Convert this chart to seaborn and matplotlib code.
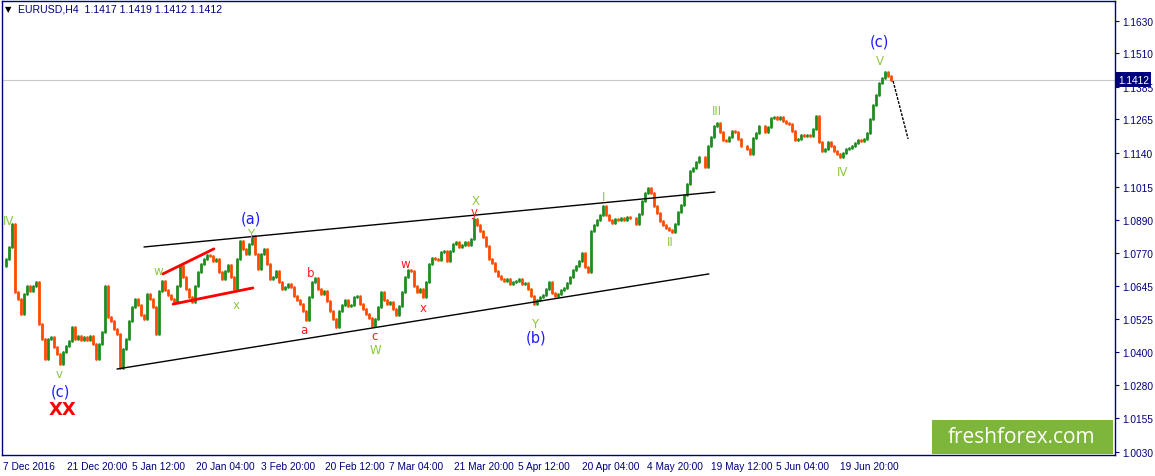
import numpy as np
import pandas as pd
import matplotlib
matplotlib.use("Agg")
import matplotlib.pyplot as plt
import matplotlib.transforms as mtransforms
from matplotlib.patches import Rectangle
import seaborn as sns

# ----------------------------------------------------------
# dati (chiusure H4, una ogni ~3 barre)
# ----------------------------------------------------------
closes = [
    1.0720, 1.0746, 1.0791, 1.0876, 1.0624, 1.0598, 1.0542, 1.0616, 1.0646, 1.0628,
    1.0646, 1.0661, 1.0505, 1.0449, 1.0375, 1.0449, 1.0457, 1.0420, 1.0394, 1.0357,
    1.0401, 1.0423, 1.0442, 1.0494, 1.0449, 1.0461, 1.0446, 1.0457, 1.0446, 1.0461,
    1.0431, 1.0375, 1.0431, 1.0475, 1.0646, 1.0531, 1.0516, 1.0487, 1.0468, 1.0342,
    1.0412, 1.0449, 1.0516, 1.0568, 1.0598, 1.0576, 1.0539, 1.0524, 1.0616, 1.0598,
    1.0568, 1.0468, 1.0628, 1.0665, 1.0631, 1.0613, 1.0598, 1.0587, 1.0646, 1.0720,
    1.0680, 1.0635, 1.0605, 1.0587, 1.0646, 1.0698, 1.0728, 1.0746, 1.0761, 1.0757,
    1.0739, 1.0746, 1.0698, 1.0672, 1.0702, 1.0724, 1.0680, 1.0635, 1.0746, 1.0813,
    1.0784, 1.0765, 1.0802, 1.0832, 1.0765, 1.0709, 1.0765, 1.0784, 1.0728, 1.0672,
    1.0680, 1.0702, 1.0661, 1.0635, 1.0643, 1.0654, 1.0643, 1.0609, 1.0594, 1.0579,
    1.0553, 1.0520, 1.0605, 1.0661, 1.0676, 1.0635, 1.0616, 1.0628, 1.0591, 1.0553,
    1.0524, 1.0494, 1.0553, 1.0576, 1.0594, 1.0572, 1.0576, 1.0605, 1.0609, 1.0579,
    1.0561, 1.0542, 1.0527, 1.0498, 1.0524, 1.0568, 1.0624, 1.0594, 1.0579, 1.0587,
    1.0561, 1.0539, 1.0572, 1.0624, 1.0680, 1.0706, 1.0702, 1.0646, 1.0624, 1.0635,
    1.0605, 1.0661, 1.0728, 1.0750, 1.0746, 1.0743, 1.0772, 1.0776, 1.0739, 1.0776,
    1.0802, 1.0810, 1.0791, 1.0798, 1.0810, 1.0798, 1.0821, 1.0895, 1.0873, 1.0850,
    1.0828, 1.0795, 1.0746, 1.0732, 1.0702, 1.0683, 1.0672, 1.0665, 1.0672, 1.0654,
    1.0661, 1.0665, 1.0672, 1.0654, 1.0657, 1.0635, 1.0609, 1.0579, 1.0594, 1.0605,
    1.0613, 1.0635, 1.0661, 1.0620, 1.0609, 1.0616, 1.0631, 1.0639, 1.0657, 1.0680,
    1.0706, 1.0720, 1.0739, 1.0769, 1.0717, 1.0698, 1.0850, 1.0873, 1.0891, 1.0910,
    1.0943, 1.0910, 1.0891, 1.0880, 1.0895, 1.0891, 1.0899, 1.0891, 1.0902, 1.0899,
    1.0899, 1.0876, 1.0913, 1.0962, 1.0991, 1.1010, 1.0991, 1.0943, 1.0917, 1.0888,
    1.0873, 1.0862, 1.0854, 1.0847, 1.0876, 1.0921, 1.0947, 1.0984, 1.1025, 1.1073,
    1.1084, 1.1107, 1.1125, 1.1125, 1.1088, 1.1166, 1.1199, 1.1240, 1.1251, 1.1218,
    1.1188, 1.1185, 1.1199, 1.1222, 1.1218, 1.1192, 1.1166, 1.1166, 1.1155, 1.1136,
    1.1196, 1.1214, 1.1240, 1.1240, 1.1218, 1.1236, 1.1270, 1.1274, 1.1266, 1.1274,
    1.1259, 1.1251, 1.1248, 1.1222, 1.1188, 1.1192, 1.1207, 1.1203, 1.1207, 1.1203,
    1.1229, 1.1277, 1.1181, 1.1147, 1.1155, 1.1181, 1.1166, 1.1147, 1.1136, 1.1125,
    1.1140, 1.1155, 1.1159, 1.1166, 1.1177, 1.1188, 1.1185, 1.1192, 1.1214, 1.1266,
    1.1318, 1.1355, 1.1400, 1.1418, 1.1441, 1.1426, 1.1412,
]

date_labels = [
    "7 Dec 2016", "21 Dec 20:00", "5 Jan 12:00", "20 Jan 04:00", "3 Feb 20:00",
    "20 Feb 12:00", "7 Mar 04:00", "21 Mar 20:00", "5 Apr 12:00", "20 Apr 04:00",
    "4 May 20:00", "19 May 12:00", "5 Jun 04:00", "19 Jun 20:00",
]
price_ticks = [1.1630, 1.1510, 1.1385, 1.1265, 1.1140, 1.1015, 1.0890,
               1.0770, 1.0645, 1.0525, 1.0400, 1.0280, 1.0155, 1.0030]
last_quote = [1.1417, 1.1419, 1.1412, 1.1412]

# etichette d'onda: testo, barra, prezzo, colore
GREEN, RED, BLUE = "#8CC63F", "#FF1A1A", "#1E1EFF"
wave_labels = [
    ("IV", 1.8, 1.0888, GREEN), ("v", 18.7, 1.0320, GREEN), ("(c)", 19.3, 1.0256, BLUE),
    ("(a)", 82.7, 1.0900, BLUE), ("Y", 82.5, 1.0842, GREEN),
    ("w", 51.7, 1.0702, GREEN), ("x", 77.7, 1.0576, GREEN),
    ("a", 100.3, 1.0483, RED), ("b", 102.7, 1.0698, RED),
    ("c", 124.0, 1.0463, RED), ("W", 124.3, 1.0410, GREEN),
    ("w", 134.0, 1.0728, RED), ("x", 140.0, 1.0568, RED),
    ("X", 157.7, 1.0965, GREEN), ("y", 157.0, 1.0921, RED),
    ("Y", 177.3, 1.0508, GREEN), ("(b)", 177.7, 1.0457, BLUE),
    ("I", 200.3, 1.0980, GREEN), ("II", 222.3, 1.0810, GREEN),
    ("III", 238.0, 1.1299, GREEN), ("IV", 280.0, 1.1073, GREEN),
    ("(c)", 292.3, 1.1555, BLUE), ("V", 292.3, 1.1485, GREEN),
]

# ----------------------------------------------------------
# barre in formato lungo per seaborn
# ----------------------------------------------------------
opens = [closes[0]] + closes[:-1]
rows = []
for k, (o, c) in enumerate(zip(opens, closes)):
    d = "up" if c >= o else "down"
    rows.append((k, o, d))
    rows.append((k, c, d))
bars = pd.DataFrame(rows, columns=["bar", "price", "dir"])

sns.set_theme(style="white")
plt.rcParams["font.family"] = ["Liberation Sans", "DejaVu Sans"]
NAVY = "#00007F"

fig = plt.figure(figsize=(11.55, 4.77), dpi=100)
ax = fig.add_axes([2 / 1155, 21 / 477, 1113 / 1155, 454 / 477])

sns.lineplot(data=bars, x="bar", y="price", hue="dir", units="bar", estimator=None,
             sort=False, palette={"up": "#1F8C1F", "down": "#FF4A00"},
             lw=2.0, legend=False, ax=ax)

# canale e triangolo
sns.lineplot(x=[47, 237.3], y=[1.0791, 1.0995], color="black", lw=1.0, ax=ax)
sns.lineplot(x=[38, 235.3], y=[1.0338, 1.0691], color="black", lw=1.0, ax=ax)
sns.lineplot(x=[53.3, 70.3], y=[1.0691, 1.0784], color="#FF0000", lw=2.0, ax=ax)
sns.lineplot(x=[56.7, 83.3], y=[1.0579, 1.0639], color="#FF0000", lw=2.0, ax=ax)
ax.plot([296.7, 301.7], [1.1407, 1.1192], color="black", lw=1.0, ls=(0, (2, 1)))

ax.axhline(last_quote[-1], color="#C8C8C8", lw=0.8, zorder=0)

for txt, k, p, col in wave_labels:
    fs = 10.5 if txt.startswith("(") else 8.5
    ax.text(k, p, txt, color=col, fontsize=fs, ha="center", va="center",
            family=["DejaVu Sans"])
ax.text(20, 1.0190, "XX", color="#FF0000", fontsize=13, fontweight="bold",
        ha="center", va="center", family=["DejaVu Sans"])

# assi
ax.set_xlim(-1 / 3, 1112 / 3)
ax.set_ylim(1.00188, 1.17041)
ax.set_xlabel("")
ax.set_ylabel("")
ax.set_xticks(np.arange(len(date_labels)) * 21.46)
ax.set_xticklabels(date_labels, ha="left")
ax.set_yticks(price_ticks)
ax.set_yticklabels([f"{v:.4f}" for v in price_ticks])
ax.yaxis.tick_right()
ax.tick_params(axis="both", direction="out", length=3, width=0.8, color=NAVY,
               labelcolor=NAVY, labelsize=7.3, pad=2)
ax.tick_params(axis="x", pad=1)
for s in ax.spines.values():
    s.set_color(NAVY)
    s.set_linewidth(1.0)
    s.set_visible(True)

# etichetta prezzo corrente
trans = mtransforms.blended_transform_factory(ax.transAxes, ax.transData)
ax.text(1.0025, last_quote[-1], f"{last_quote[-1]:.4f}", transform=trans, color="white",
        fontsize=7.3, ha="left", va="center", zorder=10, clip_on=False,
        bbox=dict(facecolor=NAVY, edgecolor="none", pad=1.6))

# intestazione
fig.text(5 / 1155, 1 - 10 / 477, "\u25bc", fontsize=6, color="black", va="center",
         family=["DejaVu Sans"])
fig.text(18 / 1155, 1 - 10 / 477,
         "EURUSD,H4  " + " ".join(f"{v:.4f}" for v in last_quote),
         fontsize=7.6, color=NAVY, va="center")

# logo
fig.patches.append(Rectangle((932 / 1155, 1 - 455 / 477), 181 / 1155, 34 / 477,
                             transform=fig.transFigure, facecolor="#7DB63A",
                             edgecolor="none", zorder=5))
fig.text(1022 / 1155, 1 - 438 / 477, "freshforex.com", fontsize=15, color="white",
         family=["Open Sans", "DejaVu Sans"], ha="center", va="center", zorder=6)

fig.savefig("out.png", dpi=100, facecolor="white")
